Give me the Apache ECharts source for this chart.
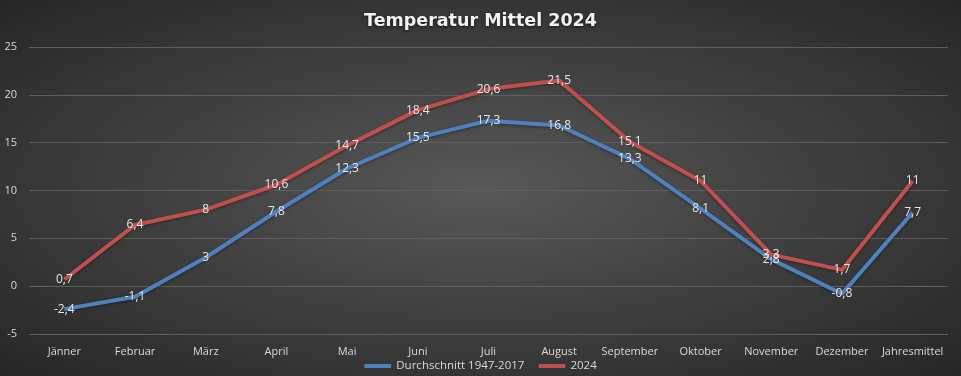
<!DOCTYPE html>
<html><head><meta charset="utf-8">
<script src="https://cdn.jsdelivr.net/npm/echarts@6/dist/echarts.min.js"></script>
<style>html,body{margin:0;padding:0;background:#262626}
#c{width:961px;height:376px;background:radial-gradient(ellipse farthest-corner at 50% 50%, #585858 0%, #262626 100%)}</style>
</head><body><div id="c"></div>
<script>
const categories = ['Jänner','Februar','März','April','Mai','Juni','Juli','August','September','Oktober','November','Dezember','Jahresmittel'];
const avg1947 = [-2.4, -1.1, 3, 7.8, 12.3, 15.5, 17.3, 16.8, 13.3, 8.1, 2.8, -0.8, 7.7];
const temp2024 = [0.7, 6.4, 8, 10.6, 14.7, 18.4, 20.6, 21.5, 15.1, 11, 3.3, 1.7, 11];
const seriesNames = ['Durchschnitt 1947-2017', '2024'];
const yTicks = {min: -5, max: 25, interval: 5};

const FONT = '"Open Sans", "Noto Sans", sans-serif';
const fmt = p => String(p.value).replace('.', ',');
const chart = echarts.init(document.getElementById('c'));
function mk(name, data, color) {
  return {
    name, type: 'line', data,
    symbol: 'circle', symbolSize: 0,
    lineStyle: {color, width: 4, shadowColor: 'rgba(0,0,0,0.4)', shadowBlur: 3, shadowOffsetY: 1},
    itemStyle: {color},
    label: {show: true, position: 'inside', formatter: fmt, color: '#e6e6e6', fontSize: 12, fontFamily: FONT},
    emphasis: {disabled: true}, animation: false
  };
}
chart.setOption({
  animation: false,
  backgroundColor: 'transparent',
  title: {text: 'Temperatur Mittel 2024', left: 'center', top: 7,
    textStyle: {color: '#f2f2f2', fontSize: 17.5, fontWeight: 'bold', fontFamily: '"DejaVu Sans", sans-serif',
      textShadowColor: 'rgba(0,0,0,0.7)', textShadowBlur: 3, textShadowOffsetY: 1}},
  legend: {top: 360, left: 'center', itemWidth: 27, itemHeight: 4, itemGap: 14, padding: 0,
    icon: 'roundRect',
    textStyle: {color: '#d9d9d9', fontSize: 11.5, fontFamily: FONT}, data: seriesNames},
  grid: {left: 29, right: 13, top: 47, bottom: 42},
  xAxis: {type: 'category', data: categories, boundaryGap: true,
    axisLine: {show: false}, axisTick: {show: false},
    axisLabel: {color: '#d9d9d9', fontSize: 11, fontFamily: FONT, margin: 12, interval: 0}},
  yAxis: {type: 'value', min: yTicks.min, max: yTicks.max, interval: yTicks.interval,
    axisLine: {show: false}, axisTick: {show: false},
    axisLabel: {color: '#d9d9d9', fontSize: 11, fontFamily: FONT, margin: 12},
    splitLine: {lineStyle: {color: '#5f5f5f', width: 1}}},
  series: [mk(seriesNames[0], avg1947, '#4f81bd'), mk(seriesNames[1], temp2024, '#c0504d')]
});
</script></body></html>
